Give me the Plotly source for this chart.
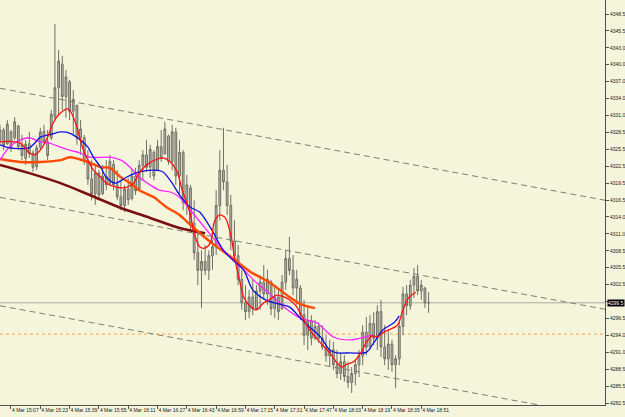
import pandas as pd
import numpy as np
import plotly.graph_objects as go

BASE = pd.Timestamp("2025-03-04 15:01")

# ---- 2-minute bars (price) ----
bar_high = [4329.7,4329.2,4330.5,4328.8,4331.0,4329.7,4328.0,4327.1,4328.5,4325.4,
            4326.3,4329.2,4329.7,4328.8,4332.2,4346.8,4342.4,4341.4,4339.0,4337.3,
            4335.6,4333.1,4330.5,4328.0,4325.4,4323.7,4322.9,4322.0,4322.9,4323.7,
            4324.6,4323.7,4322.0,4320.3,4319.5,4320.7,4322.0,4322.4,4323.7,4325.4,
            4327.1,4326.3,4325.4,4327.1,4328.8,4330.2,4328.0,4329.7,4329.2,4327.1,
            4325.4,4321.2,4319.5,4316.9,4311.9,4308.4,4309.3,4308.4,4310.2,4318.6,
            4325.4,4329.2,4322.9,4317.8,4313.5,4309.3,4305.1,4302.5,4301.7,4303.4,
            4302.5,4304.2,4305.9,4305.1,4303.4,4302.5,4301.7,4304.2,4308.4,4310.7,
            4307.6,4305.1,4302.5,4300.0,4299.1,4297.4,4296.6,4296.2,4295.7,4294.0,
            4293.2,4292.9,4291.5,4291.1,4290.6,4289.5,4288.6,4289.8,4291.5,4295.7,
            4297.1,4297.4,4297.9,4299.1,4300.0,4295.7,4294.9,4293.2,4290.6,4296.6,
            4302.2,4302.5,4303.4,4305.4,4305.9,4303.4,4302.2,4301.3]
bar_low = [4326.3,4325.4,4326.3,4325.1,4327.1,4325.4,4323.7,4322.9,4324.1,4321.7,
           4322.0,4325.4,4326.3,4323.7,4327.1,4330.5,4331.4,4332.2,4330.9,4330.5,
           4328.0,4326.3,4324.6,4322.9,4319.5,4316.9,4316.1,4316.9,4317.8,4318.6,
           4319.5,4318.6,4316.9,4315.2,4314.9,4316.1,4316.9,4317.8,4318.6,4320.3,
           4321.7,4320.7,4320.3,4322.0,4323.4,4324.6,4322.9,4322.0,4319.5,4317.8,
           4315.2,4314.4,4311.9,4306.8,4302.5,4298.6,4304.2,4303.4,4305.1,4307.6,
           4313.5,4318.6,4314.4,4308.4,4306.4,4302.5,4298.3,4296.6,4296.9,4297.4,
           4298.3,4298.3,4300.0,4299.1,4297.4,4296.9,4296.6,4298.3,4301.7,4304.2,
           4300.8,4299.1,4296.6,4292.3,4291.5,4292.3,4293.2,4292.7,4291.5,4289.5,
           4288.6,4288.1,4286.7,4286.4,4286.1,4285.0,4284.2,4285.5,4286.9,4288.9,
           4290.6,4291.5,4292.3,4291.5,4290.3,4288.9,4288.1,4287.8,4285.0,4288.9,
           4294.0,4297.4,4298.3,4300.3,4300.8,4300.0,4298.6,4297.8]
bar_open = [4327.0,4328.8,4326.5,4328.5,4327.5,4329.5,4326.2,4324.0,4326.5,4324.9,
            4322.6,4325.9,4328.6,4326.8,4327.5,4331.0,4336.0,4340.0,4334.5,4337.0,
            4332.0,4333.0,4327.5,4327.5,4323.5,4320.5,4318.0,4321.5,4318.0,4321.0,
            4319.8,4323.0,4319.5,4317.5,4316.0,4318.8,4317.2,4321.0,4318.8,4322.8,
            4324.6,4322.5,4325.0,4322.0,4326.0,4324.8,4327.8,4323.5,4328.5,4321.0,
            4325.0,4316.5,4319.0,4313.0,4308.0,4305.0,4306.5,4305.0,4307.5,4309.0,
            4316.0,4322.0,4320.0,4316.0,4310.0,4307.5,4303.5,4299.5,4298.0,4300.5,
            4298.5,4301.5,4303.0,4301.0,4303.0,4298.5,4300.5,4298.5,4303.0,4307.0,
            4305.0,4302.0,4302.0,4297.5,4294.0,4296.5,4293.5,4295.5,4293.5,4292.0,
            4290.5,4291.5,4289.0,4287.5,4289.5,4287.0,4286.0,4287.5,4289.0,4290.5,
            4294.5,4292.0,4296.0,4293.5,4298.0,4292.0,4290.0,4292.5,4289.0,4290.0,
            4295.5,4301.0,4299.0,4302.5,4304.0,4301.5,4302.0,4299.5]
bar_close = [4328.8,4326.2,4329.8,4325.8,4330.2,4326.0,4324.5,4326.4,4324.8,4322.5,
             4325.8,4328.5,4326.9,4324.5,4331.5,4336.0,4340.5,4334.5,4337.8,4332.0,
             4334.0,4327.5,4329.0,4323.5,4320.5,4318.0,4321.5,4317.8,4321.0,4319.5,
             4323.5,4319.5,4317.5,4316.0,4318.8,4317.0,4321.0,4318.5,4322.8,4324.6,
             4322.5,4325.5,4321.0,4326.0,4324.0,4329.0,4323.5,4328.5,4321.0,4325.0,
             4316.5,4319.5,4313.0,4308.0,4305.0,4306.5,4305.0,4307.5,4309.0,4316.0,
             4322.0,4320.0,4316.0,4310.0,4307.5,4303.5,4299.5,4298.0,4300.5,4298.5,
             4301.5,4303.0,4301.0,4303.5,4298.5,4300.5,4298.0,4303.0,4307.0,4305.0,
             4302.0,4303.5,4297.5,4294.0,4296.5,4293.5,4295.5,4293.5,4292.0,4290.5,
             4291.5,4289.0,4287.5,4289.5,4287.0,4286.0,4287.5,4289.0,4290.5,4294.5,
             4292.0,4296.0,4293.5,4298.0,4292.0,4290.0,4292.5,4289.0,4290.0,4295.5,
             4301.0,4299.0,4302.5,4304.0,4301.5,4302.5,4299.5,4299.5]
bar_times = pd.date_range(BASE, periods=len(bar_high), freq="2min")

# ---- indicator lines: minutes after 15:01, price ----
red_min = [0,5,11,14,16,19,22,26,29,33,37,39,42,45,48,51,55,58,64,69,73,76,80,86,89,93,97,99,
           102,104,106,109,112,115,117,120,123,126,128,131,133,137,140,144,147,151,155,158,
           162,165,169,175,180,184,187,189,193,197,200,203,206,209,212,217,220,223,227]
red_px = [4326.8,4326.9,4326.6,4325.7,4324.9,4324.6,4325.4,4327.6,4330.0,4331.7,4332.4,4331.7,
          4329.3,4325.9,4323.7,4322.0,4320.8,4319.8,4319.1,4319.1,4319.8,4321.5,4322.9,4323.9,
          4324.1,4323.4,4321.5,4319.1,4316.4,4314.4,4311.3,4309.0,4308.8,4309.8,4313.2,4314.4,
          4313.9,4311.0,4307.3,4303.0,4300.5,4298.8,4298.3,4299.5,4300.0,4300.8,4300.5,4300.0,
          4298.8,4297.1,4294.9,4292.7,4291.0,4289.3,4288.6,4289.0,4289.5,4291.0,4292.8,4293.9,
          4293.7,4294.4,4294.9,4295.7,4298.3,4300.3,4301.3]
blue_min = [0,5,16,19,22,27,33,38,44,48,51,55,58,63,69,76,84,89,94,98,104,109,115,122,127,133,
            138,145,152,158,164,169,175,180,184,191,200,204,209,215,218]
blue_px = [4326.3,4325.8,4325.8,4326.6,4327.6,4328.0,4328.5,4328.3,4327.1,4325.9,4324.2,4322.5,
           4320.8,4319.8,4320.8,4321.7,4322.0,4321.7,4319.8,4317.8,4315.7,4314.9,4312.2,4308.4,
           4306.8,4305.1,4301.7,4300.0,4299.3,4298.8,4296.9,4295.4,4293.7,4291.5,4291.0,4291.0,
           4291.1,4292.7,4294.9,4296.1,4297.3]
mag_min = [0,5,11,16,22,27,33,38,44,49,60,66,71,76,82,87,93,98,104,113,122,127,133,140,147,155,
           164,173,182,191,197,203]
mag_px = [4323.7,4325.9,4327.1,4327.5,4326.8,4326.6,4325.9,4325.4,4324.9,4324.2,4324.2,4323.7,
          4322.5,4320.8,4319.5,4318.6,4318.3,4317.4,4315.2,4311.8,4308.4,4306.8,4305.1,4302.9,
          4301.1,4298.8,4296.9,4296.1,4293.7,4293.2,4293.5,4294.0]
orange_min = [0,11,22,33,38,48,55,60,66,71,76,84,91,98,104,115,126,137,147,158,164,169,172]
orange_px = [4323.9,4323.4,4323.4,4323.7,4324.2,4323.4,4322.5,4322.4,4320.8,4319.8,4318.6,4317.4,
             4315.7,4314.4,4312.7,4309.8,4307.3,4304.7,4303.0,4300.5,4299.3,4298.8,4298.6]
maroon_min = [0,16,33,49,66,82,98,112]
maroon_px = [4322.9,4321.5,4319.8,4317.8,4315.6,4313.9,4312.2,4311.3]

# ---- channel (minutes, price at both ends) ----
chan_min = [0, 330.3]
chan_upper = [4335.9, 4316.9]
chan_mid = [4317.4, 4298.4]
chan_lower = [4299.0, 4280.1]

bid_price = 4299.5
level_price = 4294.2

# ---- axis labels ----
x_tick_times = ["14:51","15:07","15:23","15:39","15:55","16:11","16:27","16:43","16:59","17:15",
                "17:31","17:47","18:03","18:19","18:35","18:51"]
y_tick_labels = ["4348.5","4345.5","4343.0","4340.0","4337.0","4334.0","4331.0","4328.5",
                 "4325.5","4322.5","4319.5","4316.5","4314.0","4311.0","4308.5","4305.5",
                 "4302.5","4299.5","4296.5","4294.0","4291.0","4288.5","4285.5","4282.5"]

def t(m):
    return BASE + pd.Timedelta(minutes=float(m))

BG = "#F5F5DC"
fig = go.Figure()

fig.add_trace(go.Candlestick(
    x=bar_times, open=bar_open, high=bar_high, low=bar_low, close=bar_close,
    increasing=dict(line=dict(color="#6f6f66", width=1), fillcolor="#b9b9aa"),
    decreasing=dict(line=dict(color="#6f6f66", width=1), fillcolor="#b9b9aa"),
    whiskerwidth=0, hoverinfo="skip", showlegend=False))

def add_line(mins, px, color, width):
    fig.add_trace(go.Scatter(x=[t(m) for m in mins], y=px, mode="lines",
                             line=dict(color=color, width=width, shape="spline", smoothing=0.8),
                             hoverinfo="skip", showlegend=False))

add_line(maroon_min, maroon_px, "#7B0F0F", 2.6)
add_line(orange_min, orange_px, "#FF4A00", 2.4)
add_line(mag_min, mag_px, "#FF22FF", 1.3)
add_line(blue_min, blue_px, "#1010E0", 1.3)
add_line(red_min, red_px, "#FF1010", 1.3)

for ch in (chan_upper, chan_mid, chan_lower):
    fig.add_shape(type="line", xref="x", yref="y", x0=t(chan_min[0]), x1=t(chan_min[1]),
                  y0=ch[0], y1=ch[1], line=dict(color="#7d7d75", width=1, dash="6px,4px"), layer="above")

fig.add_shape(type="line", xref="paper", yref="y", x0=0, x1=1, y0=bid_price, y1=bid_price,
              line=dict(color="#a8a8a0", width=1), layer="below")
fig.add_shape(type="line", xref="paper", yref="y", x0=0, x1=1, y0=level_price, y1=level_price,
              line=dict(color="#FFA040", width=1, dash="dot"), layer="below")

# current price label replaces the regular tick label at that level
fig.add_annotation(x=1, xref="paper", y=bid_price, yref="y", xanchor="left", yanchor="middle",
                   xshift=2, text="4299.5", showarrow=False, bgcolor="#000000",
                   font=dict(color="#ffffff", size=5, family="Liberation Sans"), borderpad=0)
y_ticktext = ["" if s == "4299.5" else s for s in y_tick_labels]

x_tickvals = [pd.Timestamp("2025-03-04 " + s) for s in x_tick_times]
x_ticktext = ["4 Mar " + s for s in x_tick_times]
y_tickvals = list(np.linspace(4348.5, 4282.5, len(y_tick_labels)))

fig.update_layout(
    width=625, height=417, margin=dict(l=0, r=20, t=0, b=12, autoexpand=False),
    paper_bgcolor=BG, plot_bgcolor=BG,
    font=dict(family="Liberation Sans", size=5, color="#202020"),
    showlegend=False,
    xaxis=dict(range=[t(0), t(330.3)], rangeslider=dict(visible=False), showgrid=False,
               zeroline=False, showline=True, linecolor="#505050", linewidth=1,
               ticks="outside", ticklen=3, tickcolor="#505050", tickangle=0, automargin=False,
               tickvals=x_tickvals, ticktext=x_ticktext, ticklabelposition="outside right",
               tickfont=dict(size=5)),
    yaxis=dict(range=[4282.16, 4350.875], side="right", showgrid=False, zeroline=False,
               showline=True, linecolor="#505050", linewidth=1, ticks="outside", ticklen=3,
               tickcolor="#505050", tickvals=y_tickvals, ticktext=y_ticktext, automargin=False,
               tickfont=dict(size=5)),
)

fig.write_html("out.html")
